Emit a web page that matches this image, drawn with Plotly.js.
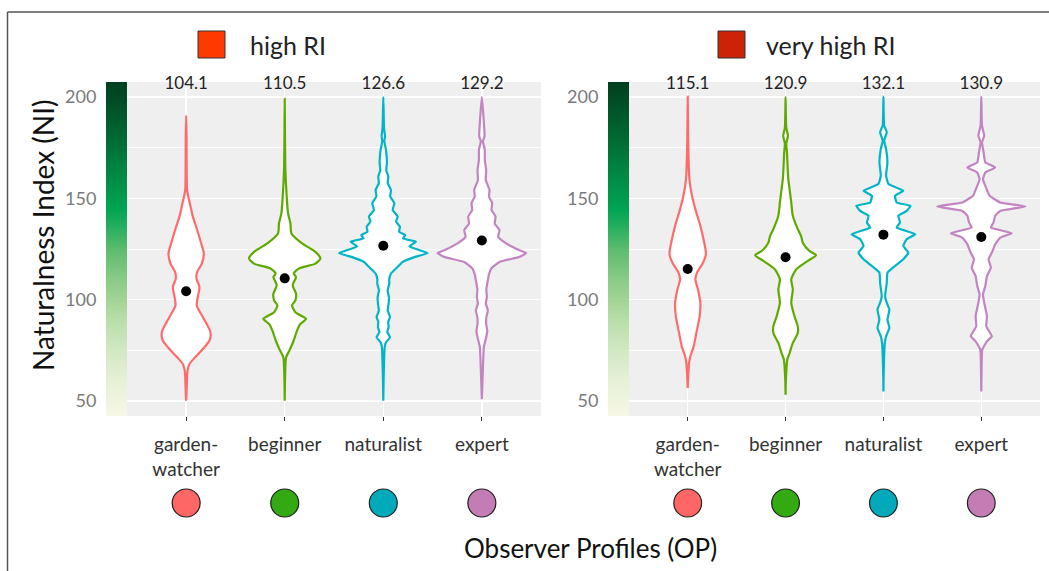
<!DOCTYPE html>
<html>
<head>
<meta charset="utf-8">
<script src="https://cdn.plot.ly/plotly-3.0.1.min.js"></script>
<style>html,body{margin:0;padding:0;background:#fff;}#chart{width:1049px;height:571px;}</style>
</head>
<body>
<div id="chart"></div>
<script>
// ---------- data ----------
const categories = ['garden-<br>watcher', 'beginner', 'naturalist', 'expert'];
const categoryIndex = [0, 1, 2, 3];
const panelNames = ['high RI', 'very high RI'];
const meansHigh = [104.1, 110.5, 126.6, 129.2];
const meansVeryHigh = [115.1, 120.9, 132.1, 130.9];
const yTicks = [50, 100, 150, 200];
const yMinor = [75, 125, 175];

// violin outlines: NI value and half-width (category units)
const highGardenY = [190.9, 180, 165, 154, 147.6, 141, 134.4, 127.8, 122.8, 117.8, 113.7, 110.4, 106.2, 101.3, 97.1, 91.4, 83.9, 79.8, 75.6, 71.5, 68.2, 64.9, 58.3, 50];
const highGardenW = [0, .004, .005, .010, .037, .068, .112, .152, .179, .159, .112, .105, .135, .118, .108, .169, .247, .237, .169, .091, .034, .014, .007, 0];
const highBeginnerY = [199.2, 180, 164, 150.9, 142.6, 137.7, 132.7, 127.8, 123.6, 120.3, 117.8, 115.3, 112.9, 111.2, 107.1, 102.9, 99.6, 97.1, 93.8, 90.5, 88.0, 84.7, 79.8, 74.8, 71.5, 60, 50];
const highBeginnerW = [0, .003, .007, .020, .034, .058, .068, .176, .311, .362, .311, .142, .091, .115, .081, .115, .108, .074, .108, .217, .159, .125, .091, .047, .014, .003, 0];
const highNaturalistY = [200, 185, 180.7, 178.2, 174.1, 167.5, 164, 160.8, 157.5, 154.2, 151, 147.6, 144.3, 141, 138.5, 136, 133.5, 131.9, 130.2, 128.6, 126.3, 123.0, 121.1, 118.6, 116.2, 112.9, 110, 107.9, 104.6, 101, 98.0, 94.5, 91.4, 89, 86.4, 84, 81.4, 78.9, 76.5, 60, 50];
const highNaturalistW = [0, .007, .017, .010, .027, .037, .030, .051, .045, .078, .070, .112, .095, .146, .130, .169, .160, .223, .200, .332, .264, .450, .321, .196, .146, .078, .060, .061, .044, .058, .054, .045, .068, .050, .054, .040, .068, .027, .014, .003, 0];
const highExpertY = [200, 180.7, 178.2, 174.1, 169, 164.1, 159, 154.2, 151, 147.6, 144.3, 141, 137.5, 134.4, 131, 127.8, 124.4, 123.0, 121.1, 118.6, 115.3, 112, 109.6, 105, 101.3, 98, 94.7, 91, 88.0, 84.5, 81.4, 76.5, 64.9, 50.8];
const highExpertW = [0, .027, .010, .030, .030, .044, .040, .078, .072, .105, .098, .139, .130, .179, .165, .247, .382, .450, .382, .179, .095, .070, .061, .045, .051, .040, .061, .045, .044, .055, .044, .020, .010, 0];

const vhGardenY = [200.3, 184.3, 172.7, 159.5, 151.3, 144.7, 136.4, 128.1, 122.4, 118.2, 113.3, 110.0, 105.0, 98.4, 91.8, 83.5, 76.9, 72.0, 68.7, 60, 56.3];
const vhGardenW = [0, .003, .007, .017, .044, .078, .129, .169, .186, .156, .095, .078, .105, .129, .122, .088, .061, .027, .014, .003, 0];
const vhBeginnerY = [200, 185, 181, 177, 172.7, 160, 154.6, 148, 141.4, 134.8, 131.4, 128.1, 124.0, 121.9, 119.1, 114.9, 110.0, 105.0, 98.4, 91.8, 86.8, 83.5, 78.6, 73.6, 70.3, 60, 53];
const vhBeginnerW = [0, .007, .024, .007, .014, .027, .041, .058, .074, .125, .159, .176, .244, .311, .227, .108, .058, .074, .058, .091, .125, .125, .074, .041, .017, .003, 0];
const vhNaturalistY = [200.3, 186, 182.7, 178.5, 174.4, 167.8, 161.2, 157.1, 153.8, 151.3, 148.0, 146.3, 143.8, 141.4, 138.1, 135.6, 132.3, 129.8, 126.5, 123.2, 119.9, 116.6, 113.3, 108.3, 101.7, 98.4, 95.1, 90.1, 86.0, 81.9, 78.6, 65, 54.6];
const vhNaturalistW = [0, .007, .034, .007, .027, .041, .027, .051, .203, .118, .135, .277, .237, .152, .169, .135, .325, .237, .203, .254, .203, .118, .041, .034, .017, .034, .061, .041, .061, .027, .014, .003, 0];
const vhExpertY = [200.3, 186, 181, 177.7, 172.7, 167.8, 165.3, 162.8, 159.5, 156.2, 151.3, 148.0, 146.0, 143.8, 141.4, 138.1, 135.6, 132.8, 130.6, 127.3, 123.2, 119.9, 115.8, 111.6, 106.7, 102.5, 98.4, 91.8, 86.8, 81.9, 79.4, 75.3, 65, 54.6];
const vhExpertW = [0, .007, .030, .007, .024, .041, .142, .041, .017, .041, .085, .193, .45, .193, .142, .125, .098, .311, .193, .142, .108, .074, .098, .058, .041, .017, .030, .058, .051, .108, .058, .010, .003, 0];

const lineColors = ['#FF6B6B', '#5FAA00', '#00B5C6', '#C285C2'];
const lineSmoothing = [0.7, 0.6, 0.35, 0.35];
const circleColors = ['#FF6666', '#33AA11', '#00AABB', '#C47CB4'];
const panelColors = ['#FF3A00', '#CC2208'];
const gradientScale = [
  [0, '#F7F7E6'], [0.106, '#E6F1D6'], [0.197, '#D2E8C4'], [0.288, '#B9DEAA'],
  [0.348, '#A3D495'], [0.421, '#84C984'], [0.5, '#5CBB6E'], [0.573, '#22AD5E'],
  [0.621, '#00A452'], [0.712, '#008C45'], [0.833, '#006A33'], [0.955, '#004A24'], [1, '#00401E']
];
const yRange = [42.5, 207.5];

// ---------- build ----------
const W = 1049, H = 571;
const px = v => v / W, py = v => 1 - v / H;

const panels = [
  {xa: 'x', ya: 'y', bar: 'x3', means: meansHigh,
   ys: [highGardenY, highBeginnerY, highNaturalistY, highExpertY],
   ws: [highGardenW, highBeginnerW, highNaturalistW, highExpertW]},
  {xa: 'x2', ya: 'y2', bar: 'x4', means: meansVeryHigh,
   ys: [vhGardenY, vhBeginnerY, vhNaturalistY, vhExpertY],
   ws: [vhGardenW, vhBeginnerW, vhNaturalistW, vhExpertW]}
];

const traces = [];
panels.forEach(p => {
  traces.push({type: 'heatmap', x: [0, 1], y: yRange, z: [[yRange[0], yRange[0]], [yRange[1], yRange[1]]],
    zmin: yRange[0], zmax: yRange[1], zsmooth: 'best', colorscale: gradientScale, showscale: false,
    xaxis: p.bar, yaxis: p.ya, hoverinfo: 'skip'});
  categoryIndex.forEach(i => {
    const ys = p.ys[i], ws = p.ws[i];
    const x = ys.map((_, k) => i + ws[k]).concat(ys.map((_, k) => i - ws[k]).reverse());
    const y = ys.concat(ys.slice().reverse());
    traces.push({type: 'scatter', mode: 'lines', x, y, xaxis: p.xa, yaxis: p.ya, fill: 'toself', fillcolor: '#FFFFFF',
      line: {color: lineColors[i], width: 2.2, shape: 'spline', smoothing: lineSmoothing[i]}, hoverinfo: 'skip', showlegend: false});
  });
  traces.push({type: 'scatter', mode: 'markers', x: categoryIndex, y: p.means, xaxis: p.xa, yaxis: p.ya,
    marker: {color: '#000', size: 10}, showlegend: false, hoverinfo: 'skip'});
  traces.push({type: 'scatter', mode: 'text', x: categoryIndex, y: p.means.map(() => 206.3),
    text: p.means.map(m => m.toFixed(1)), textposition: 'middle center', cliponaxis: false,
    textfont: {size: 17, color: '#222'}, xaxis: p.xa, yaxis: p.ya, showlegend: false, hoverinfo: 'skip'});
});

function xAxis(dom, anchor) {
  return {domain: dom, anchor, range: [-0.6, 3.6], tickmode: 'array', tickvals: categoryIndex, ticktext: categories,
    ticks: 'outside', ticklen: 4, tickwidth: 1.2, tickcolor: '#333', showgrid: true, gridcolor: '#FFFFFF', gridwidth: 1.5,
    zeroline: false, showline: false, tickfont: {size: 19, color: '#333'}, ticklabelstandoff: 7, fixedrange: true};
}
function yAxis(dom, anchor) {
  return {domain: dom, anchor, range: yRange, tickmode: 'array', tickvals: yTicks, ticks: 'outside', ticklen: 4,
    tickwidth: 1.2, tickcolor: '#333', showgrid: true, gridcolor: '#FFFFFF', gridwidth: 1.5, zeroline: false,
    minor: {tickmode: 'array', tickvals: yMinor, showgrid: true, gridcolor: '#FFFFFF', gridwidth: 0.8, ticks: ''},
    tickfont: {size: 18, color: '#7a7a7a'}, ticklabelstandoff: 22, fixedrange: true};
}
const yDom = [py(416), py(82)];

const shapes = [
  {type: 'line', xref: 'paper', yref: 'paper', x0: px(7.5), x1: px(7.5), y0: 0, y1: py(12), line: {color: '#555', width: 1.5}},
  {type: 'line', xref: 'paper', yref: 'paper', x0: px(7.5), x1: 1, y0: py(12), y1: py(12), line: {color: '#555', width: 1.5}},
  {type: 'rect', xref: 'paper', yref: 'paper', x0: px(198), x1: px(225), y0: py(58), y1: py(31), fillcolor: panelColors[0], line: {color: '#333', width: 1}},
  {type: 'rect', xref: 'paper', yref: 'paper', x0: px(718), x1: px(745), y0: py(58), y1: py(31), fillcolor: panelColors[1], line: {color: '#333', width: 1}}
];
['x', 'x2'].forEach(xa => {
  categoryIndex.forEach(i => {
    shapes.push({type: 'circle', xref: xa, yref: 'paper', x0: i - 0.142, x1: i + 0.142, y0: py(517), y1: py(489),
      fillcolor: circleColors[i], line: {color: '#222', width: 1.2}});
  });
});

const annotations = [
  {xref: 'paper', yref: 'paper', x: px(248), y: py(45), xanchor: 'left', yanchor: 'middle', text: panelNames[0], showarrow: false, font: {size: 25, color: '#222'}},
  {xref: 'paper', yref: 'paper', x: px(764), y: py(45), xanchor: 'left', yanchor: 'middle', text: panelNames[1], showarrow: false, font: {size: 25, color: '#222'}},
  {xref: 'paper', yref: 'paper', x: px(43), y: py(236), xanchor: 'center', yanchor: 'middle', textangle: -90, text: 'Naturalness Index (NI)', showarrow: false, font: {size: 28, color: '#111'}},
  {xref: 'paper', yref: 'paper', x: px(590), y: py(548), xanchor: 'center', yanchor: 'middle', text: 'Observer Profiles (OP)', showarrow: false, font: {size: 26, color: '#111'}}
];

const layout = {
  width: W, height: H, margin: {l: 0, r: 0, t: 0, b: 0},
  paper_bgcolor: '#FFFFFF', plot_bgcolor: '#EFEFEF',
  font: {family: 'Lato, "Open Sans", sans-serif', color: '#333'},
  showlegend: false,
  xaxis: xAxis([px(127), px(541)], 'y'),
  yaxis: yAxis(yDom, 'x'),
  xaxis2: xAxis([px(629), px(1040)], 'y2'),
  yaxis2: yAxis(yDom, 'x2'),
  xaxis3: {domain: [px(106), px(127)], anchor: 'y', range: [0, 1], visible: false, fixedrange: true},
  xaxis4: {domain: [px(608), px(629)], anchor: 'y2', range: [0, 1], visible: false, fixedrange: true},
  shapes, annotations
};

Plotly.newPlot('chart', traces, layout, {staticPlot: true, displayModeBar: false});
</script>
</body>
</html>
